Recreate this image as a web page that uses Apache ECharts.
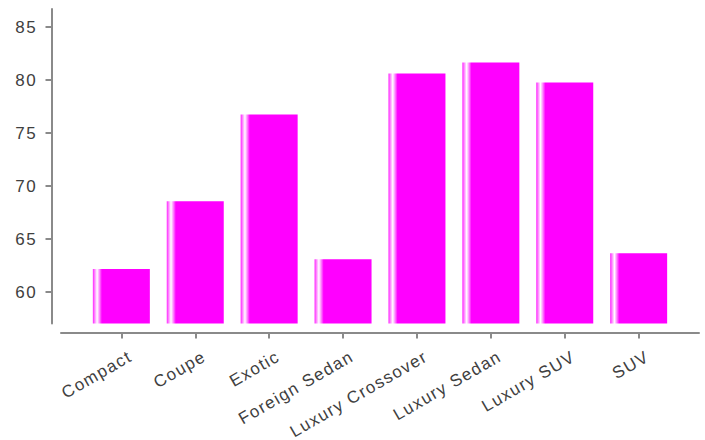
<!DOCTYPE html>
<html>
<head>
<meta charset="utf-8">
<script src="https://cdn.jsdelivr.net/npm/echarts@6/dist/echarts.min.js"></script>
<style>html,body{margin:0;padding:0;background:#fff}#c{width:705px;height:440px}#c text{letter-spacing:1.4px}</style>
</head>
<body>
<div id="c"></div>
<script>
const categories = ['Compact', 'Coupe', 'Exotic', 'Foreign Sedan', 'Luxury Crossover', 'Luxury Sedan', 'Luxury SUV', 'SUV'];
const values = [62.19, 68.57, 76.76, 63.1, 80.62, 81.66, 79.77, 63.67];
const yMin = 57.05;
const yMax = 86.7;

const axisGrey = '#8a8a8a';
const textGrey = '#404040';
const font = 'Liberation Sans, Arial, sans-serif';

const chart = echarts.init(document.getElementById('c'), null, {renderer: 'svg'});
chart.setOption({
  animation: false,
  grid: [
    {left: 84.4, right: 29.4, top: 9, bottom: 116.5},
    {left: 61, right: 6, top: 9, bottom: 107}
  ],
  xAxis: [
    {
      type: 'category', gridIndex: 0, data: categories, offset: 9,
      axisLine: {show: false},
      axisTick: {show: true, alignWithLabel: true, length: 6, lineStyle: {color: axisGrey, width: 2}},
      axisLabel: {rotate: 30, margin: 28, padding: [0, -10.5, 0, 0], color: textGrey, fontSize: 17, fontFamily: font, interval: 0}
    },
    {
      type: 'value', gridIndex: 1, min: 0, max: 1,
      axisLine: {show: true, lineStyle: {color: axisGrey, width: 2}},
      axisTick: {show: false}, axisLabel: {show: false}, splitLine: {show: false}
    }
  ],
  yAxis: [
    {
      type: 'value', gridIndex: 0, min: yMin, max: yMax, offset: 32.9,
      axisLine: {show: true, lineStyle: {color: axisGrey, width: 2}},
      axisTick: {show: true, length: 6, lineStyle: {color: axisGrey, width: 2}},
      axisLabel: {color: textGrey, fontSize: 17, fontFamily: font, margin: 14.5, showMinLabel: false, showMaxLabel: false},
      splitLine: {show: false}
    },
    {type: 'value', gridIndex: 1, show: false}
  ],
  series: [{
    type: 'bar', xAxisIndex: 0, yAxisIndex: 0, data: values, barWidth: 57,
    itemStyle: {
      color: new echarts.graphic.LinearGradient(0, 0, 1, 0, [
        {offset: 0, color: '#ff22ff'},
        {offset: 0.04, color: '#ff99ff'},
        {offset: 0.075, color: '#ffffff'},
        {offset: 0.11, color: '#ff99ff'},
        {offset: 0.16, color: '#ff00ff'},
        {offset: 1, color: '#ff00ff'}
      ])
    }
  }]
});
</script>
</body>
</html>
